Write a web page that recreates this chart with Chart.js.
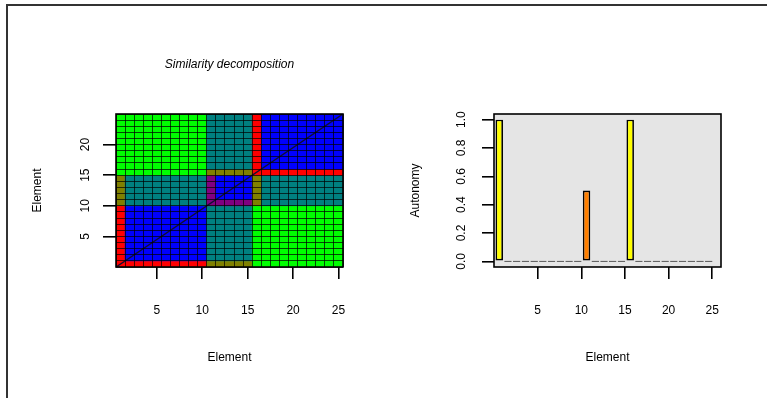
<!DOCTYPE html>
<html>
<head>
<meta charset="utf-8">
<script src="https://cdn.jsdelivr.net/npm/chart.js@4/dist/chart.umd.min.js"></script>
<style>
  html, body { margin: 0; padding: 0; background: #fff; }
  #page { position: relative; width: 767px; height: 398px; overflow: hidden; background: #fff; }
  #frame { position: absolute; left: 6px; top: 4px; width: 780px; height: 420px;
           border-top: 2px solid #333; border-left: 2px solid #333; }
  #left  { position: absolute; left: 0; top: 0; width: 383px; height: 398px; }
  #right { position: absolute; left: 383px; top: 0; width: 384px; height: 398px; }
</style>
</head>
<body>
<div id="page">
  <div id="frame"></div>
  <canvas id="left" width="383" height="398"></canvas>
  <canvas id="right" width="384" height="398"></canvas>
</div>
<script>
// ---- data ----
const elements = [1, 2, 3, 4, 5, 6, 7, 8, 9, 10, 11, 12, 13, 14, 15, 16, 17, 18, 19, 20, 21, 22, 23, 24, 25];
const autonomy = [1, 0, 0, 0, 0, 0, 0, 0, 0, 0, 0.5, 0, 0, 0, 0, 1, 0, 0, 0, 0, 0, 0, 0, 0, 0];

// Similarity class of each (column, row) cell, one string per row, row 25 first.
// R = red, B = blue, G = green, T = teal, O = olive, P = purple
const similarityRows = [
  "GGGGGGGGGGTTTTTRBBBBBBBBB", // 25
  "GGGGGGGGGGTTTTTRBBBBBBBBB", // 24
  "GGGGGGGGGGTTTTTRBBBBBBBBB", // 23
  "GGGGGGGGGGTTTTTRBBBBBBBBB", // 22
  "GGGGGGGGGGTTTTTRBBBBBBBBB", // 21
  "GGGGGGGGGGTTTTTRBBBBBBBBB", // 20
  "GGGGGGGGGGTTTTTRBBBBBBBBB", // 19
  "GGGGGGGGGGTTTTTRBBBBBBBBB", // 18
  "GGGGGGGGGGTTTTTRBBBBBBBBB", // 17
  "GGGGGGGGGGOOOOORRRRRRRRRR", // 16
  "OTTTTTTTTTPBBBBOTTTTTTTTT", // 15
  "OTTTTTTTTTPBBBBOTTTTTTTTT", // 14
  "OTTTTTTTTTPBBBBOTTTTTTTTT", // 13
  "OTTTTTTTTTPBBBBOTTTTTTTTT", // 12
  "OTTTTTTTTTPPPPPOTTTTTTTTT", // 11
  "RBBBBBBBBBTTTTTGGGGGGGGGG", // 10
  "RBBBBBBBBBTTTTTGGGGGGGGGG", // 9
  "RBBBBBBBBBTTTTTGGGGGGGGGG", // 8
  "RBBBBBBBBBTTTTTGGGGGGGGGG", // 7
  "RBBBBBBBBBTTTTTGGGGGGGGGG", // 6
  "RBBBBBBBBBTTTTTGGGGGGGGGG", // 5
  "RBBBBBBBBBTTTTTGGGGGGGGGG", // 4
  "RBBBBBBBBBTTTTTGGGGGGGGGG", // 3
  "RBBBBBBBBBTTTTTGGGGGGGGGG", // 2
  "RRRRRRRRRROOOOOGGGGGGGGGG"  // 1
];

const xTickValues = [5, 10, 15, 20, 25];
const yTickValuesLeft = [5, 10, 15, 20];
const yTickValuesRight = [0, 0.2, 0.4, 0.6, 0.8, 1.0];

// ---- styling ----
const classColors = { R: '#ff0000', B: '#0000ff', G: '#00ff00', T: '#008080', O: '#808000', P: '#800080' };
const FONT = { family: "'Liberation Sans', Arial, Helvetica, sans-serif", size: 12, weight: 'normal' };
const TITLE_FONT = { family: "'Liberation Sans', Arial, Helvetica, sans-serif", size: 12, style: 'italic', weight: 'normal' };
const BAR_SHIFT = 0.4;   // bars sit just left of their element position

const fixedTicks = values => scale => { scale.ticks = values.map(v => ({ value: v })); };

// Box around the plot region, with optional background fill
const plotBox = {
  id: 'plotBox',
  beforeDraw(chart, args, opts) {
    if (!opts.fill) return;
    const { ctx, chartArea: a } = chart;
    ctx.save();
    ctx.fillStyle = opts.fill;
    ctx.fillRect(a.left, a.top, a.right - a.left, a.bottom - a.top);
    ctx.restore();
  },
  afterDraw(chart, args, opts) {
    const { ctx, chartArea: a } = chart;
    ctx.save();
    ctx.strokeStyle = opts.color || '#000';
    ctx.lineWidth = opts.width || 1.5;
    ctx.strokeRect(a.left, a.top, a.right - a.left, a.bottom - a.top);
    ctx.restore();
  }
};

function axisStyle(tickLength) {
  return {
    grid: { offset: false, drawOnChartArea: false, color: '#000', lineWidth: 1.6, tickLength: tickLength },
    border: { display: false }
  };
}

// ---- left: similarity decomposition ----
const LX_MIN = 0.5, LX_MAX = 25.5, LY_MIN = 0, LY_MAX = 25;
const rowCount = similarityRows.length;

const heatDatasets = similarityRows.map((codes, k) => {
  const row = rowCount - k;
  return {
    type: 'bar',
    data: elements.map(el => ({ x: el, y: [row - 1, row] })),
    backgroundColor: elements.map((el, i) => classColors[codes[i]]),
    borderWidth: 0,
    grouped: false,
    barPercentage: 1,
    categoryPercentage: 1,
    order: 2
  };
});

const diagonal = {
  type: 'line',
  data: [{ x: LX_MIN, y: LY_MIN }, { x: LX_MAX, y: LY_MAX }],
  borderColor: '#101030',
  borderWidth: 1.4,
  pointRadius: 0,
  order: 0
};

const cellEdgesX = elements.map(e => e - 0.5).concat([LX_MAX]);
const cellEdgesY = [LY_MIN].concat(elements);

new Chart(document.getElementById('left'), {
  type: 'bar',
  data: { datasets: heatDatasets.concat([diagonal]) },
  plugins: [plotBox],
  options: {
    responsive: false,
    animation: false,
    events: [],
    layout: { padding: { left: 0, top: 57, right: 40, bottom: 0 } },
    plugins: {
      legend: { display: false },
      tooltip: { enabled: false },
      title: {
        display: true, text: 'Similarity decomposition', fullSize: false,
        font: TITLE_FONT, color: '#000', padding: { top: 0, bottom: 42.6 }
      },
      plotBox: { color: '#000', width: 1.6 }
    },
    scales: {
      x: Object.assign({
        type: 'linear', min: LX_MIN, max: LX_MAX, offset: false,
        afterBuildTicks: fixedTicks(xTickValues),
        afterFit: s => { s.height = 131; },
        ticks: { font: FONT, color: '#000', padding: 24, maxRotation: 0, autoSkip: false },
        title: { display: true, text: 'Element', font: FONT, color: '#000', padding: { top: 0, bottom: 33 } }
      }, axisStyle(12)),
      y: Object.assign({
        type: 'linear', min: LY_MIN, max: LY_MAX,
        afterBuildTicks: fixedTicks(yTickValuesLeft),
        afterFit: s => { s.width = 116; },
        ticks: { font: FONT, color: '#000', padding: 11, minRotation: 90, maxRotation: 90, crossAlign: 'center', autoSkip: false },
        title: { display: true, text: 'Element', font: FONT, color: '#000', padding: { top: 30, bottom: 0 } }
      }, axisStyle(13)),
      gx: {
        type: 'linear', position: 'top', min: LX_MIN, max: LX_MAX, offset: false,
        afterBuildTicks: fixedTicks(cellEdgesX),
        afterFit: s => { s.height = 0; },
        grid: { offset: false, drawOnChartArea: true, drawTicks: false, color: 'rgba(0,0,0,0.7)', lineWidth: 1, z: 1 },
        border: { display: false },
        ticks: { display: false }
      },
      gy: {
        type: 'linear', position: 'right', min: LY_MIN, max: LY_MAX, offset: false,
        afterBuildTicks: fixedTicks(cellEdgesY),
        afterFit: s => { s.width = 0; },
        grid: { offset: false, drawOnChartArea: true, drawTicks: false, color: 'rgba(0,0,0,0.7)', lineWidth: 1, z: 1 },
        border: { display: false },
        ticks: { display: false }
      }
    }
  }
});

// ---- right: autonomy ----
const barColor = v => (v >= 1 ? '#ffff00' : (v > 0 ? '#ff7f00' : '#ffff00'));

new Chart(document.getElementById('right'), {
  type: 'bar',
  data: {
    datasets: [{
      data: elements.map((el, i) => ({ x: el - BAR_SHIFT, y: autonomy[i] })),
      backgroundColor: autonomy.map(barColor),
      borderColor: '#000',
      borderWidth: 1.7,
      borderSkipped: false,
      minBarLength: 1,
      barPercentage: 0.86,
      categoryPercentage: 1
    }]
  },
  plugins: [plotBox],
  options: {
    responsive: false,
    animation: false,
    events: [],
    layout: { padding: { left: 0, top: 114, right: 46, bottom: 0 } },
    plugins: {
      legend: { display: false },
      tooltip: { enabled: false },
      plotBox: { fill: '#e5e5e5', color: '#000', width: 1.6 }
    },
    scales: {
      x: Object.assign({
        type: 'linear', min: 0, max: 26, offset: false,
        afterBuildTicks: fixedTicks(xTickValues),
        afterFit: s => { s.height = 131; },
        ticks: { font: FONT, color: '#000', padding: 24, maxRotation: 0, autoSkip: false },
        title: { display: true, text: 'Element', font: FONT, color: '#000', padding: { top: 0, bottom: 33 } }
      }, axisStyle(12)),
      y: Object.assign({
        type: 'linear', min: -0.04, max: 1.04,
        afterBuildTicks: fixedTicks(yTickValuesRight),
        afterFit: s => { s.width = 111; },
        ticks: { font: FONT, color: '#000', padding: 12, minRotation: 90, maxRotation: 90, crossAlign: 'center', autoSkip: false,
                 callback: v => v.toFixed(1) },
        title: { display: true, text: 'Autonomy', font: FONT, color: '#000', padding: { top: 25, bottom: 0 } }
      }, axisStyle(12))
    }
  }
});
</script>
</body>
</html>
